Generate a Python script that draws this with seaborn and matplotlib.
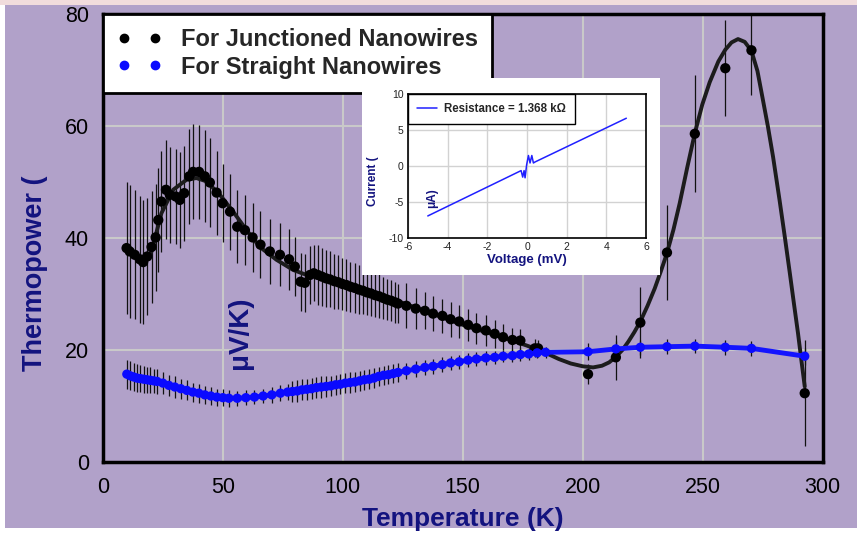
import numpy as np
import pandas as pd
import seaborn as sns
import matplotlib
matplotlib.use("Agg")
import matplotlib.pyplot as plt
from matplotlib.patches import Rectangle
from matplotlib.lines import Line2D

# Junctioned nanowires: temperature (K), thermopower (uV/K), error bar
junc_t = [9.9, 11.2, 13.3, 15.4, 16.8, 18.5, 20.3, 22.0, 23.1, 24.4, 26.3, 27.9,
          30.4, 32.1, 33.9, 36.0, 37.6, 40.1, 42.5, 44.6, 47.4, 49.9, 53.0, 56.0,
          59.2, 62.4, 65.7, 69.6, 73.8, 77.6, 80.0, 82.4, 84.2, 86.3, 87.9,
          89.6, 91.3, 93.0, 94.7, 96.4, 98.1, 99.8, 101.5, 103.2, 104.9, 106.6,
          108.3, 110.0, 111.7, 113.4, 115.1, 116.8, 118.5, 120.2, 121.9, 123.0,
          126.5, 130.4, 134.2, 137.6, 141.5, 144.9, 148.5, 152.2, 155.7, 159.6,
          163.3, 166.8, 170.7, 174.0, 180.0, 181.4,
          202.2, 213.8, 224.0, 235.1, 246.7, 259.4, 270.3, 292.5]
junc_s = [38.2, 37.6, 37.0, 36.2, 35.7, 36.7, 38.4, 40.1, 43.2, 46.5, 48.6, 47.7,
          47.4, 46.8, 48.0, 51.0, 51.8, 51.8, 51.0, 49.9, 48.1, 46.2, 44.7, 42.0,
          41.4, 40.1, 38.8, 37.6, 37.0, 36.2, 34.9, 32.2, 32.0, 33.4, 33.7,
          33.4, 33.1, 32.8, 32.6, 32.3, 32.1, 31.8, 31.6, 31.3, 31.1, 30.8,
          30.6, 30.3, 30.1, 29.8, 29.6, 29.3, 29.0, 28.8, 28.5, 28.3,
          27.9, 27.4, 27.0, 26.5, 26.1, 25.5, 25.1, 24.5, 23.9, 23.5,
          22.9, 22.3, 21.8, 21.7, 20.3, 20.3,
          15.7, 18.7, 24.9, 37.4, 58.6, 70.3, 73.5, 12.3]
junc_err = [11.8, 11.8, 11.5, 11.3, 11.0, 10.5, 10.0, 9.6, 9.3, 9.0, 8.8, 8.6,
            8.5, 8.5, 8.5, 8.5, 8.5, 8.4, 8.2, 8.0, 7.5, 7.0, 6.8, 6.5,
            6.3, 6.1, 6.0, 5.8, 5.6, 5.4, 5.3, 5.2, 5.2, 5.1, 5.0,
            5.3, 5.2, 5.1, 5.0, 4.9, 4.8, 4.7, 4.6, 4.5, 4.4, 4.3,
            4.2, 4.1, 4.0, 3.9, 3.9, 3.8, 3.7, 3.7, 3.6, 3.5,
            4.0, 3.6, 3.3, 3.1, 3.0, 3.1, 3.0, 2.9, 2.8, 2.7,
            2.5, 2.3, 2.1, 2.1, 1.6, 1.5,
            1.8, 4.0, 6.4, 8.5, 10.4, 8.6, 8.0, 9.5]

# fitted curve through the junctioned data
fit_t = [9.2, 13.0, 16.8, 20.3, 24.4, 29.3, 34.9, 39.0, 43.2, 48.8, 54.3, 59.9,
         65.4, 72.4, 79.3, 84.9, 89.0, 100.0, 125.0, 150.0, 170.0, 180.0, 185.0,
         190.0, 195.0, 200.0, 204.3, 208.0, 211.0, 213.8, 216.5, 219.0, 221.5,
         224.0, 227.0, 230.0, 232.5, 235.1, 237.8, 240.4, 243.5, 246.7, 249.8,
         252.9, 256.5, 259.4, 262.0, 264.7, 267.5, 270.3, 272.8, 275.1, 277.2,
         279.3, 282.0, 284.2, 286.3, 288.0, 289.7, 291.1, 292.5]
fit_s = [38.4, 36.8, 35.5, 37.6, 44.4, 48.6, 50.4, 50.7, 50.1, 47.7, 44.7, 41.4,
         38.4, 36.1, 34.3, 33.4, 33.8, 32.0, 28.4, 24.5, 21.8, 20.3, 19.4,
         18.4, 17.6, 17.1, 16.9, 17.2, 17.8, 18.8, 20.0, 21.5, 23.2,
         25.1, 27.9, 31.0, 34.0, 37.3, 41.5, 46.2, 52.5, 58.7, 63.8,
         67.8, 71.5, 73.6, 74.9, 75.5, 75.0, 73.4, 69.8, 64.6, 59.8,
         54.5, 46.8, 40.2, 33.7, 28.3, 23.0, 18.2, 13.5]

# Straight nanowires
str_t = [10.0, 11.4, 12.8, 14.2, 15.6, 17.0, 18.4, 19.8, 21.2, 22.6,
         25.0, 27.5, 30.0, 32.5, 35.0, 37.5, 40.0, 42.5, 45.0, 47.5, 50.0, 52.5,
         56.0, 59.6, 63.2, 66.8, 70.4, 74.0, 77.0,
         79, 81, 83, 85, 87, 89, 91, 93, 95, 97, 99, 101, 103, 105, 107, 109,
         111, 113, 115, 117, 119, 121, 123,
         126.5, 130.4, 134.2, 137.6, 141.5, 144.9, 148.5, 152.2, 155.7, 159.6,
         163.3, 166.8, 170.7, 174.0, 177.5, 181.0, 184.5,
         202.2, 213.8, 224.0, 235.1, 246.7, 259.4, 270.3, 292.5]
str_s = [15.7, 15.4, 15.2, 15.0, 14.9, 14.8, 14.7, 14.6, 14.5, 14.4,
         14.1, 13.7, 13.4, 13.1, 12.8, 12.5, 12.3, 12.0, 11.8, 11.6, 11.5, 11.4,
         11.4, 11.5, 11.6, 11.8, 12.0, 12.3, 12.5,
         12.6, 12.7, 12.9, 13.0, 13.1, 13.3, 13.4, 13.5, 13.6, 13.8, 13.9, 14.1,
         14.2, 14.3, 14.5, 14.7, 14.8, 15.0, 15.3, 15.5, 15.6, 15.8, 16.0,
         16.3, 16.6, 16.9, 17.1, 17.4, 17.7, 17.9, 18.2, 18.4, 18.6,
         18.7, 18.9, 19.0, 19.2, 19.3, 19.5, 19.6,
         19.7, 20.2, 20.5, 20.6, 20.7, 20.5, 20.3, 18.9]
str_err = [2.6, 2.6, 2.5, 2.5, 2.4, 2.4, 2.3, 2.3, 2.2, 2.2,
           2.0, 1.9, 1.9, 1.8, 1.8, 1.7, 1.7, 1.6, 1.6, 1.5, 1.5, 1.5,
           1.3, 1.3, 1.3, 1.3, 1.4, 1.4, 1.5,
           1.9, 1.9, 1.9, 1.9, 1.9, 1.9, 1.9, 1.8, 1.8, 1.8, 1.8, 1.8,
           1.8, 1.8, 1.8, 1.8, 1.8, 1.8, 1.7, 1.7, 1.7, 1.7, 1.7,
           1.4, 1.4, 1.4, 1.3, 1.3, 1.3, 1.3, 1.2, 1.2, 1.2,
           1.2, 1.1, 1.1, 1.1, 1.0, 1.0, 1.0,
           1.5, 1.5, 1.3, 1.3, 1.3, 1.3, 1.3, 1.5]

# inset I-V curve
iv_v = [-5.0, -0.3, -0.22, -0.15, -0.1, -0.02, 0.07, 0.15, 0.24, 0.32, 0.4, 5.0]
iv_i = [-6.9, -0.6, -1.5, -0.6, -1.6, 0.23, 1.5, 0.46, 1.5, 0.46, 0.6, 6.68]

PURPLE = "#b1a1c9"
NAVY = "#13137f"

sns.set_style("white")
plt.rcParams['font.family'] = ['Liberation Sans', 'DejaVu Sans']
plt.rcParams['axes.unicode_minus'] = False

fig = plt.figure(figsize=(8.57, 5.33), dpi=100)
fig.patch.set_facecolor(PURPLE)
# white margins and pink band of the original slide
fig.add_artist(Rectangle((0, 0), 0.006, 1, transform=fig.transFigure,
                         facecolor="white", edgecolor="none", zorder=-2))
fig.add_artist(Rectangle((0, 0), 1, 0.01, transform=fig.transFigure,
                         facecolor="white", edgecolor="none", zorder=-2))
fig.add_artist(Rectangle((0, 0.99), 1, 0.01, transform=fig.transFigure,
                         facecolor="#f1dcdc", edgecolor="none", zorder=-1))

ax = fig.add_axes([0.120, 0.133, 0.840, 0.841])
ax.set_facecolor(PURPLE)

ax.errorbar(junc_t, junc_s, yerr=junc_err, fmt='none', ecolor='#111111',
            elinewidth=0.9, capsize=0, zorder=2)
sns.lineplot(x=fit_t, y=fit_s, ax=ax, color='#1c1c1c', lw=2.8, sort=False,
             estimator=None, zorder=3)
sns.scatterplot(x=junc_t, y=junc_s, ax=ax, color='black', s=55,
                edgecolor='none', zorder=4)

ax.errorbar(str_t, str_s, yerr=str_err, fmt='none', ecolor='#111111',
            elinewidth=0.9, capsize=0, zorder=2)
sns.lineplot(x=str_t, y=str_s, ax=ax, color='#1414ff', lw=3.5, sort=False,
             estimator=None, zorder=5)
sns.scatterplot(x=str_t, y=str_s, ax=ax, color='#0a0aff', s=45,
                edgecolor='none', zorder=6)

ax.set_xlim(0, 300)
ax.set_ylim(0, 80)
ax.set_xticks(range(0, 301, 50))
ax.set_yticks(range(0, 81, 20))
ax.tick_params(axis='both', length=0, labelsize=15.5, colors='black')
ax.tick_params(axis='x', pad=11)
ax.tick_params(axis='y', pad=10)
ax.grid(True, color='#c9c9c9', lw=1.5)
ax.set_axisbelow(True)
for sp in ax.spines.values():
    sp.set_color('black')
    sp.set_linewidth(2.5)
    sp.set_visible(True)
ax.set_xlabel("")
ax.set_ylabel("")

handles = [Line2D([], [], marker='o', ls='none', color='black', markersize=6),
           Line2D([], [], marker='o', ls='none', color='#0a0aff', markersize=6)]
leg = ax.legend(handles, ["For Junctioned Nanowires", "For Straight Nanowires"],
                loc='upper left', bbox_to_anchor=(0, 1), borderaxespad=0,
                numpoints=2, handlelength=1.9, handletextpad=0.8,
                labelspacing=0.2, borderpad=0.6, fancybox=False,
                framealpha=1, edgecolor='black',
                prop={'weight': 'bold', 'size': 17})
leg.get_frame().set_linewidth(2)
leg.set_zorder(10)

fig.text(35 / 857, 1 - 273 / 533, "Thermopower (", rotation=90, ha='center',
         va='center', color=NAVY, fontsize=19.5, fontweight='bold')
fig.text(240 / 857, 1 - 333 / 533, "μV/K)", rotation=90, ha='center',
         va='center', color=NAVY, fontsize=20, fontweight='bold')
fig.text(463 / 857, 1 - 519 / 533, "Temperature (K)", ha='center',
         va='center', color=NAVY, fontsize=19, fontweight='bold')

# inset: I-V characteristic
fig.add_artist(Rectangle((0.4224, 0.484), 0.348, 0.370, transform=fig.transFigure,
                         facecolor="white", edgecolor="none", zorder=3))
ax2 = fig.add_axes([0.476, 0.553, 0.278, 0.270], zorder=5)
ax2.set_facecolor('white')
sns.lineplot(x=iv_v, y=iv_i, ax=ax2, color='#2020ff', lw=1.1, sort=False,
             estimator=None)
ax2.set_xlim(-6, 6)
ax2.set_ylim(-10, 10)
ax2.set_xticks(range(-6, 7, 2))
ax2.set_yticks([-10, -5, 0, 5, 10])
ax2.tick_params(axis='both', length=0, labelsize=7.5, pad=3, colors='#222222')
ax2.grid(True, color='#d2d2d2', lw=1)
for sp in ax2.spines.values():
    sp.set_color('black')
    sp.set_linewidth(1.2)
    sp.set_visible(True)
ax2.set_xlabel("Voltage (mV)", color=NAVY, fontsize=9.5, fontweight='bold',
               labelpad=1)
ax2.set_ylabel("")
leg2 = ax2.legend([Line2D([], [], color='#2020ff', lw=1.1)],
                  ["Resistance = 1.368 kΩ"], loc='upper left',
                  bbox_to_anchor=(0, 1), borderaxespad=0, fancybox=False,
                  framealpha=1, edgecolor='black', handlelength=1.8,
                  handletextpad=0.6, borderpad=0.75,
                  prop={'weight': 'bold', 'size': 8.3})
leg2.get_frame().set_linewidth(1)
fig.text(373 / 857, 1 - 181 / 533, "Current (", rotation=90, ha='center',
         va='center', color=NAVY, fontsize=8.5, fontweight='bold', zorder=6)
fig.text(432 / 857, 1 - 198 / 533, "μA)", rotation=90, ha='center',
         va='center', color=NAVY, fontsize=8.5, fontweight='bold', zorder=6)

fig.savefig("out.png", dpi=100, facecolor=fig.get_facecolor())
